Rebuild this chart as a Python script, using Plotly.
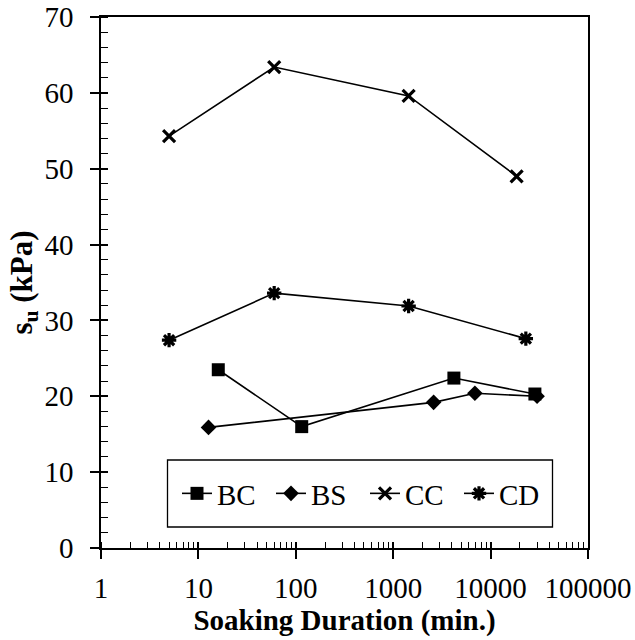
import plotly.graph_objects as go

# Undrained shear strength vs soaking duration for four soil series
bc_x = [16, 115, 4200, 28500]
bc_y = [23.5, 16.0, 22.4, 20.3]

bs_x = [12.7, 2600, 6900, 30000]
bs_y = [15.9, 19.2, 20.4, 20.0]

cc_x = [5, 60, 1440, 18500]
cc_y = [54.3, 63.4, 59.6, 49.0]

cd_x = [5, 60, 1440, 23000]
cd_y = [27.4, 33.6, 31.9, 27.6]

x_ticks = [1, 10, 100, 1000, 10000, 100000]
x_labels = ["1", "10", "100", "1000", "10000", "100000"]

series = [
    ("BC", bc_x, bc_y, "square", 13, 0),
    ("BS", bs_x, bs_y, "diamond", 12, 0),
    ("CC", cc_x, cc_y, "x-thin-open", 12, 3.2),
    ("CD", cd_x, cd_y, "asterisk-open", 12, 3.2),
]

FONT = "Liberation Serif"

# plot area in pixels (for placing the legend frame)
W, H = 635, 640
ML, MR, MT, MB = 101, 47, 17, 92
PW, PH = W - ML - MR, H - MT - MB


def px_x(x):
    return (x - ML) / PW


def px_y(y):
    return (H - MB - y) / PH


fig = go.Figure()
for name, xs, ys, sym, size, lw in series:
    fig.add_trace(go.Scatter(
        x=xs, y=ys, name=name, mode="lines+markers",
        line=dict(color="black", width=1.6),
        marker=dict(symbol=sym, size=size, color="black",
                    line=dict(color="black", width=lw)),
    ))

# overlay axes supplying the inner half of the crossing major ticks
fig.add_trace(go.Scatter(x=[1], y=[0], xaxis="x2", yaxis="y2", mode="markers",
                         marker=dict(opacity=0), showlegend=False, hoverinfo="skip"))

# legend frame
fig.add_shape(type="rect", xref="paper", yref="paper",
              x0=px_x(167.5), x1=px_x(552.5), y0=px_y(527), y1=px_y(460),
              line=dict(color="black", width=1.3), fillcolor="white", layer="below")

fig.update_layout(
    width=W, height=H,
    margin=dict(l=ML, r=MR, t=MT, b=MB, autoexpand=False),
    plot_bgcolor="white", paper_bgcolor="white",
    font=dict(family=FONT, size=29, color="black"),
    showlegend=True,
    legend=dict(
        orientation="h", x=px_x(177), y=px_y(493.5), xanchor="left", yanchor="middle",
        borderwidth=0, bgcolor="rgba(0,0,0,0)",
        font=dict(family=FONT, size=29, color="black"),
        entrywidth=49, entrywidthmode="pixels",
        itemclick=False, tracegroupgap=0,
    ),
    xaxis=dict(
        type="log", range=[0, 5], automargin=False,
        showline=True, linecolor="black", linewidth=1.5, mirror=True,
        ticks="outside", ticklen=9, tickwidth=1.5, tickcolor="black",
        tickvals=x_ticks, ticktext=x_labels,
        ticklabelstandoff=4,
        showgrid=False, zeroline=False,
        minor=dict(ticks="inside", ticklen=6, tickwidth=1.2, tickcolor="black",
                   dtick="D1", showgrid=False),
        title=dict(text="<b>Soaking Duration (min.)</b>",
                   font=dict(family=FONT, size=29), standoff=5),
        tickfont=dict(family=FONT, size=29),
    ),
    yaxis=dict(
        range=[0, 70], dtick=10, automargin=False,
        showline=True, linecolor="black", linewidth=1.5, mirror=True,
        ticks="outside", ticklen=9, tickwidth=1.5, tickcolor="black",
        ticklabelstandoff=11,
        showgrid=False, zeroline=False,
        minor=dict(ticks="inside", ticklen=7, tickwidth=1.2, tickcolor="black",
                   dtick=2, showgrid=False),
        title=dict(text="<b>s<sub>u</sub> (kPa)</b>",
                   font=dict(family=FONT, size=31), standoff=3),
        tickfont=dict(family=FONT, size=29),
    ),
    xaxis2=dict(
        type="log", range=[0, 5], overlaying="x", anchor="y2", automargin=False,
        tickvals=x_ticks,
        ticks="inside", ticklen=6, tickwidth=1.5, tickcolor="black",
        showticklabels=False, showgrid=False, zeroline=False, showline=False,
    ),
    yaxis2=dict(
        range=[0, 70], overlaying="y", anchor="x2", dtick=10, automargin=False,
        ticks="inside", ticklen=7, tickwidth=1.5, tickcolor="black",
        showticklabels=False, showgrid=False, zeroline=False, showline=False,
    ),
)

fig.write_html("out.html")
